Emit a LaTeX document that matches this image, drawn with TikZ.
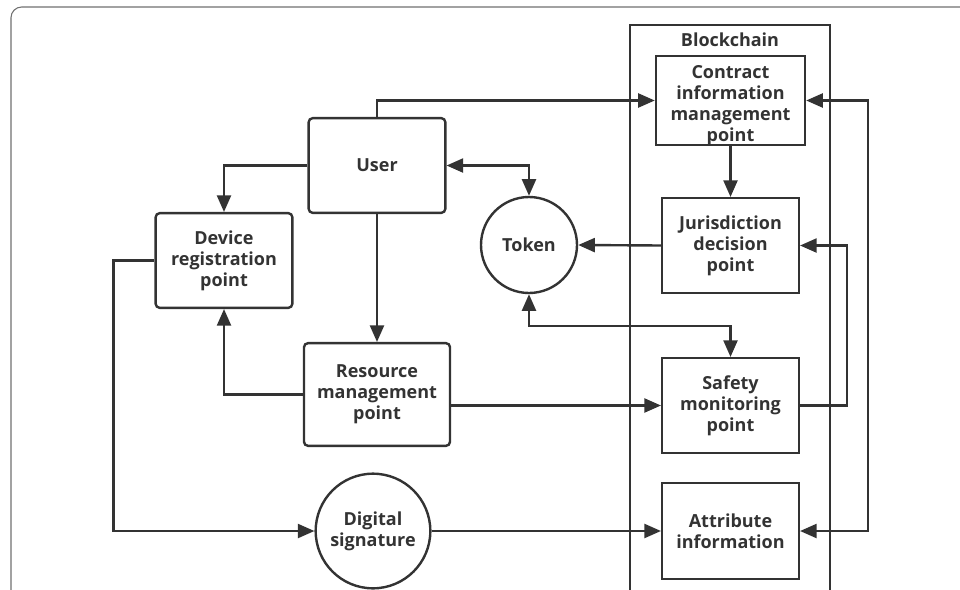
\documentclass[tikz,border=0pt]{standalone}
\usepackage{fontspec}
\setsansfont{Open Sans}
\usepackage{tikz}
\usetikzlibrary{arrows.meta, calc, positioning}
\definecolor{ink}{HTML}{333333}

\begin{document}
\begin{tikzpicture}[x=0.75pt, y=-0.75pt,
  >={Triangle[length=12.5pt, width=10.5pt]},
  font=\sffamily\bfseries\fontsize{13.5}{15.75}\selectfont,
  every node/.style={text=ink, align=center},
  box/.style={draw=ink, line width=1.8pt, minimum width=102.5pt, minimum height=71pt, inner sep=2pt},
  rbox/.style={box, rounded corners=3pt},
  disc/.style={draw=ink, line width=1.8pt, circle, inner sep=0pt},
  link/.style={draw=ink, line width=1.8pt, ->},
  dlink/.style={draw=ink, line width=1.8pt, <->}]
\useasboundingbox (0,0) rectangle (960,589);
\clip (0,0) rectangle (960,589);
% frame and blockchain
\draw[ink!70, line width=0.8pt, rounded corners=8] (11,610) |- (980,7);
\draw[ink, line width=1.8pt] (630,610) |- (830,25) -- (830,610);
\node (chain) at (730,40) {Blockchain};
% left side
\node[rbox] (user) at (377,165.5) {User};
\node[rbox] (dev) at (224,260.5) {Device\\registration\\point};
\node[rbox, minimum width=109.5pt, minimum height=77pt] (res) at (377,394.5) {Resource\\management\\point};
\node[disc, minimum size=72pt] (tok) at (529,245) {Token};
\node[disc, minimum size=86pt] (sig) at (373,531) {Digital\\signature};
% blockchain points
\node[box, minimum width=111.75pt, minimum height=66.75pt] (con) at (730.5,100.5) {};
\node at ($(con.center)+(0,5)$) {Contract\\information\\management\\point};
\node[box] (jur) at (730.5,245.5) {Jurisdiction\\decision\\point};
\node[box] (saf) at (730.5,405.5) {Safety\\monitoring\\point};
\node[box, minimum height=72pt] (att) at (730.5,531) {Attribute\\information};
% connectors
\draw[link] (user.north) |- (con.west);
\draw[link] (user.west) -| (dev.north);
\draw[dlink] (user.east) -| (tok.north);
\draw[link] (user.south) -- (res.north);
\draw[link] (res.west) -| (dev.south);
\draw[link] (res.east |- saf.west) -- (saf.west);
\draw[dlink] (tok.south) -- ++(0,32) -| (saf.north);
\draw[link] (dev.west) -- ++(-41,0) |- (sig.west);
\draw[link] (sig.east) -- (att.west);
\draw[link] (jur.west) -- (tok.east);
\draw[link] (con.south) -- (jur.north);
\draw[link] (saf.east) -- ++(47,0) |- (jur.east);
\draw[dlink] (con.east) -- ++(62,0) |- (att.east);
\end{tikzpicture}
\end{document}
